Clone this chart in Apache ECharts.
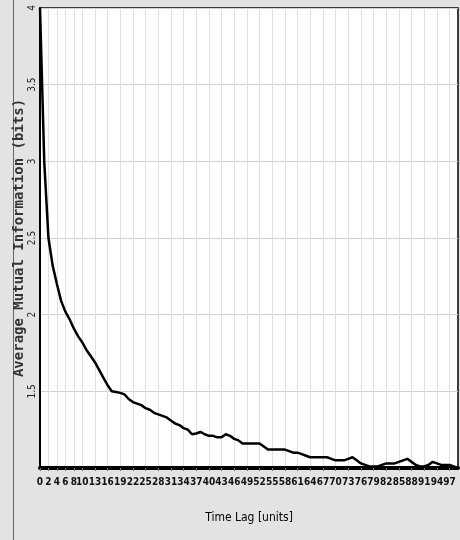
<!DOCTYPE html>
<html>
<head>
<meta charset="utf-8">
<script src="https://cdn.jsdelivr.net/npm/echarts@6/dist/echarts.min.js"></script>
<style>
html,body{margin:0;padding:0;background:#e3e3e3;}
#chart{width:460px;height:540px;}
</style>
</head>
<body>
<div id="chart"></div>
<script>
// Time lag categories 0..99
const lags = [];
for (let i = 0; i <= 99; i++) lags.push(String(i));

// Average mutual information (bits), one per lag
const ami = [
  4.00, 3.00, 2.50, 2.32, 2.20, 2.09, 2.02, 1.97, 1.91, 1.86,
  1.82, 1.77, 1.73, 1.69, 1.64, 1.59, 1.54, 1.50, 1.495, 1.49,
  1.48, 1.45, 1.43, 1.42, 1.41, 1.39, 1.38, 1.36, 1.35, 1.34,
  1.33, 1.31, 1.29, 1.28, 1.26, 1.25, 1.22, 1.225, 1.235, 1.22,
  1.21, 1.21, 1.20, 1.20, 1.22, 1.21, 1.19, 1.18, 1.16, 1.16,
  1.16, 1.16, 1.16, 1.14, 1.12, 1.12, 1.12, 1.12, 1.12, 1.11,
  1.10, 1.10, 1.09, 1.08, 1.07, 1.07, 1.07, 1.07, 1.07, 1.06,
  1.05, 1.05, 1.05, 1.06, 1.07, 1.05, 1.03, 1.02, 1.01, 1.01,
  1.01, 1.02, 1.03, 1.03, 1.03, 1.04, 1.05, 1.06, 1.04, 1.02,
  1.01, 1.01, 1.02, 1.04, 1.03, 1.02, 1.02, 1.02, 1.01, 1.00
];

// X tick labels shown on the axis
const xTickLabels = [0, 2, 4, 6, 8, 10, 13, 16, 19, 22, 25, 28, 31, 34, 37, 40, 43, 46, 49,
  52, 55, 58, 61, 64, 67, 70, 73, 76, 79, 82, 85, 88, 91, 94, 97];

// Y tick labels
const yMin = 1, yMax = 4, yStep = 0.5;
const yHidden = [1];

function isTick(idx) {
  return xTickLabels.indexOf(Number(lags[idx])) !== -1;
}

const narrow = 'DejaVu Sans Condensed, Liberation Sans Narrow, sans-serif';

const chart = echarts.init(document.getElementById('chart'), null, {renderer: 'canvas'});
chart.setOption({
  backgroundColor: '#e3e3e3',
  animation: false,
  graphic: [{
    type: 'line',
    shape: {x1: 13.5, y1: 0, x2: 13.5, y2: 540},
    style: {stroke: '#666', lineWidth: 1}
  }],
  grid: {
    left: 40, right: 2, top: 8, bottom: 72,
    outerBoundsMode: 'none', containLabel: false,
    show: true, backgroundColor: '#ffffff',
    borderColor: '#000', borderWidth: 1.5
  },
  xAxis: {
    type: 'category',
    data: lags,
    boundaryGap: false,
    name: 'Time Lag [units]',
    nameLocation: 'middle',
    nameGap: 44,
    nameMoveOverlap: false,
    nameTextStyle: {fontFamily: narrow, fontSize: 12, color: '#000'},
    axisLine: {lineStyle: {color: '#000', width: 4}},
    axisTick: {show: true, interval: isTick, length: 3, lineStyle: {color: '#777'}},
    axisLabel: {
      interval: isTick, margin: 9,
      fontFamily: narrow, fontWeight: 'bold',
      fontSize: 10, color: '#111'
    },
    splitLine: {show: true, interval: isTick, lineStyle: {color: '#e0e0e0', width: 1}}
  },
  yAxis: {
    type: 'value',
    min: yMin, max: yMax, interval: yStep,
    name: 'Average Mutual Information (bits)',
    nameLocation: 'middle',
    nameGap: 14,
    nameMoveOverlap: false,
    nameRotate: 90,
    nameTextStyle: {fontFamily: 'DejaVu Sans Mono, monospace', fontSize: 14, fontWeight: 'bold', color: '#333'},
    axisLine: {show: true, lineStyle: {color: '#000', width: 2}},
    axisTick: {show: false},
    axisLabel: {
      rotate: 90, margin: 3, fontSize: 10, color: '#222',
      fontFamily: narrow,
      formatter: v => (yHidden.indexOf(v) !== -1 ? '' : String(v))
    },
    splitLine: {show: true, lineStyle: {color: '#d0d0d0', width: 1}}
  },
  series: [{
    type: 'line',
    data: ami,
    showSymbol: false,
    symbol: 'none',
    lineStyle: {color: '#000', width: 2.5},
    clip: false
  }]
});
</script>
</body>
</html>
